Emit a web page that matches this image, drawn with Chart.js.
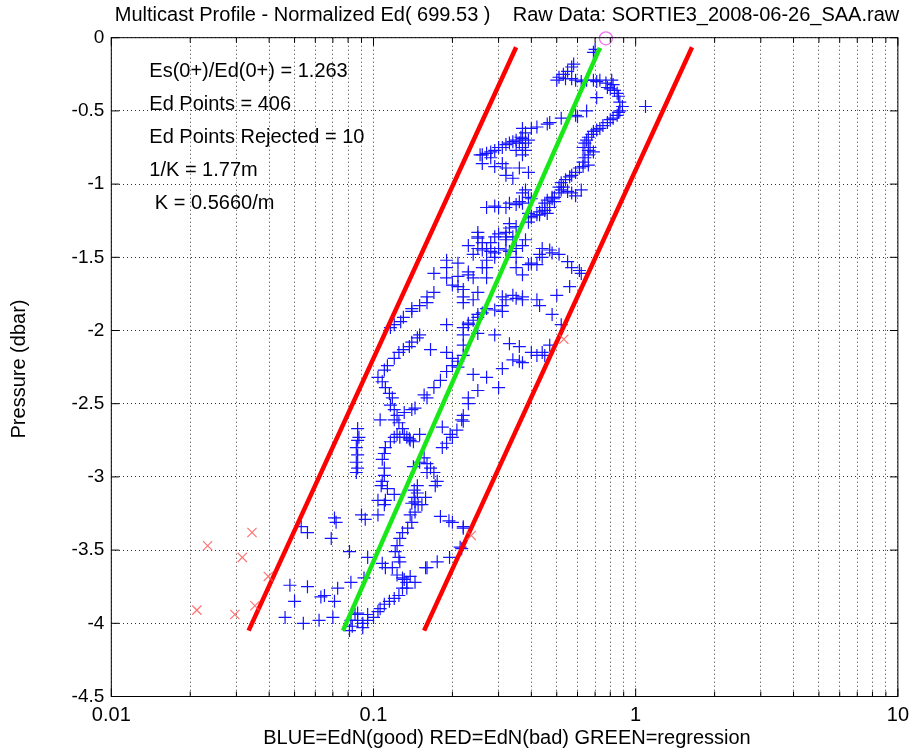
<!DOCTYPE html>
<html>
<head>
<meta charset="utf-8">
<script src="https://cdn.jsdelivr.net/npm/chart.js@4.4.1/dist/chart.umd.min.js"></script>
<style>
  html, body { margin: 0; padding: 0; background: #fff; }
  #wrap { width: 916px; height: 753px; position: relative; }
  canvas { display: block; }
</style>
</head>
<body>
<div id="wrap"><canvas id="c" width="916" height="753"></canvas></div>
<script>
// ---- Profile data: [normalized Ed, pressure (dbar)] ----
const goodPoints = [
  // near-surface cluster
  [0.69,-0.10],[0.70,-0.08],[0.58,-0.18],[0.57,-0.20],[0.55,-0.23],[0.53,-0.25],[0.51,-0.27],[0.50,-0.29],
  [0.54,-0.28],[0.57,-0.28],[0.59,-0.29],[0.62,-0.30],[0.65,-0.29],[0.69,-0.29],[0.71,-0.30],[0.73,-0.29],
  [0.77,-0.31],[0.78,-0.34],[0.81,-0.29],[0.82,-0.32],[0.80,-0.35],[0.83,-0.36],[0.85,-0.38],[0.86,-0.40],
  [0.87,-0.44],[0.89,-0.47],[0.87,-0.50],[0.86,-0.51],[0.71,-0.41],[0.65,-0.50],[1.09,-0.47],[0.60,-0.54],
  [0.52,-0.55],[0.46,-0.59],[0.42,-0.61],[0.40,-0.62],[0.47,-0.58],[0.59,-0.53],
  // descending trace from the right cluster
  [0.85,-0.53],[0.82,-0.55],[0.80,-0.56],[0.78,-0.58],[0.75,-0.60],[0.73,-0.62],[0.71,-0.63],[0.69,-0.64],
  [0.68,-0.66],[0.66,-0.68],[0.65,-0.70],[0.64,-0.72],[0.63,-0.75],[0.66,-0.77],[0.67,-0.75],[0.69,-0.78],
  [0.66,-0.80],[0.64,-0.82],[0.63,-0.85],[0.66,-0.87],[0.63,-0.88],[0.61,-0.89],[0.59,-0.92],[0.57,-0.94],
  [0.56,-0.95],[0.54,-0.97],[0.52,-0.99],[0.51,-1.02],[0.52,-1.04],[0.51,-1.06],[0.49,-1.09],[0.48,-1.10],
  [0.46,-1.11],[0.45,-1.13],[0.44,-1.16],[0.43,-1.19],[0.42,-1.21],[0.40,-1.23],[0.39,-1.26],
  // left upper group
  [0.37,-0.62],[0.38,-0.65],[0.37,-0.69],[0.365,-0.68],[0.39,-0.70],[0.38,-0.72],[0.37,-0.75],[0.38,-0.77],
  [0.37,-0.80],[0.36,-0.72],[0.35,-0.70],[0.34,-0.71],[0.33,-0.72],[0.32,-0.73],[0.31,-0.75],[0.30,-0.75],
  [0.29,-0.77],[0.28,-0.78],[0.27,-0.79],[0.26,-0.80],[0.255,-0.80],[0.28,-0.82],[0.26,-0.86],[0.29,-0.88],
  [0.32,-0.89],[0.32,-0.94],[0.34,-0.96],[0.36,-0.89],[0.39,-0.92],[0.35,-0.77],[0.31,-0.86],
  // around 1 dbar
  [0.38,-1.04],[0.37,-1.06],[0.39,-1.09],[0.40,-1.10],[0.37,-1.13],[0.36,-1.12],[0.35,-1.14],[0.33,-1.13],
  [0.32,-1.16],[0.30,-1.16],[0.29,-1.15],[0.27,-1.16],[0.39,-1.20],[0.40,-1.22],[0.43,-1.21],[0.45,-1.18],
  [0.46,-1.20],[0.47,-1.16],[0.48,-1.09],[0.53,-1.02],[0.57,-1.06],[0.59,-1.08],[0.62,-1.04],[0.49,-1.12],
  [0.55,-1.05],[0.33,-1.27],[0.33,-1.30],[0.32,-1.33],[0.30,-1.34],[0.29,-1.36],[0.25,-1.33],[0.25,-1.36],
  [0.32,-1.36],[0.34,-1.36],[0.35,-1.29],
  // 1.4 - 2.6 dbar, right half
  [0.25,-1.37],[0.26,-1.40],[0.25,-1.44],[0.26,-1.45],[0.27,-1.44],[0.28,-1.40],[0.28,-1.46],[0.29,-1.47],
  [0.29,-1.50],[0.30,-1.44],[0.32,-1.38],[0.32,-1.45],[0.33,-1.46],[0.35,-1.50],[0.35,-1.44],[0.35,-1.57],
  [0.37,-1.62],[0.37,-1.42],[0.38,-1.38],[0.39,-1.55],[0.40,-1.54],[0.42,-1.55],[0.43,-1.48],[0.44,-1.50],
  [0.44,-1.44],[0.47,-1.45],[0.48,-1.47],[0.51,-1.48],[0.55,-1.53],[0.57,-1.57],[0.61,-1.59],[0.62,-1.61],
  [0.56,-1.70],[0.50,-1.76],[0.48,-1.89],[0.42,-1.79],[0.43,-1.83],[0.37,-1.79],[0.37,-1.77],[0.35,-1.78],
  [0.34,-1.76],[0.32,-1.79],[0.31,-1.77],[0.31,-1.83],[0.31,-1.87],[0.29,-1.86],[0.27,-1.85],[0.26,-1.88],
  [0.25,-1.89],[0.25,-1.91],[0.24,-1.93],[0.23,-1.95],[0.23,-1.96],[0.22,-1.98],[0.25,-2.02],[0.29,-2.03],
  [0.33,-2.09],[0.36,-2.11],[0.40,-2.15],[0.42,-2.17],[0.44,-2.15],[0.47,-2.10],[0.52,-1.96],[0.45,-2.17],
  [0.37,-2.22],[0.36,-2.21],[0.34,-2.20],[0.31,-2.26],[0.30,-2.39],[0.27,-2.32],[0.24,-2.30],[0.25,-2.41],
  [0.23,-2.46],[0.23,-2.50],[0.22,-2.58],[0.22,-2.62],[0.23,-1.42],[0.24,-1.48],[0.23,-1.60],[0.24,-1.64],
  [0.23,-1.62],[0.22,-1.77],[0.22,-1.81],[0.24,-1.79],[0.25,-1.74],[0.27,-1.64],[0.27,-1.57],[0.26,-1.57],
  [0.27,-1.52],
  // 1.5 - 2.8 dbar, left half
  [0.19,-1.52],[0.21,-1.54],[0.19,-1.57],[0.17,-1.61],[0.19,-1.64],[0.21,-1.63],[0.20,-1.69],[0.21,-1.70],
  [0.22,-1.72],[0.17,-1.74],[0.16,-1.77],[0.16,-1.81],[0.15,-1.83],[0.14,-1.85],[0.14,-1.87],[0.13,-1.91],
  [0.127,-1.94],[0.12,-1.96],[0.116,-1.98],[0.19,-1.96],[0.15,-2.03],[0.147,-2.05],[0.14,-2.08],[0.137,-2.11],
  [0.13,-2.13],[0.125,-2.15],[0.12,-2.19],[0.113,-2.24],[0.11,-2.27],[0.104,-2.32],[0.108,-2.35],[0.111,-2.39],
  [0.115,-2.43],[0.118,-2.46],[0.116,-2.51],[0.12,-2.54],[0.123,-2.58],[0.12,-2.61],[0.125,-2.63],[0.129,-2.67],
  [0.131,-2.71],[0.137,-2.74],[0.123,-2.71],[0.106,-2.61],[0.087,-2.67],[0.088,-2.73],[0.165,-2.13],[0.18,-2.34],
  [0.17,-2.39],[0.156,-2.44],[0.16,-2.46],[0.144,-2.53],[0.14,-2.54],[0.131,-2.56],[0.15,-2.71],[0.183,-2.66],
  [0.196,-2.71],[0.208,-2.68],[0.217,-2.61],[0.19,-2.15],[0.20,-2.19],[0.21,-2.21],[0.21,-2.25],[0.19,-2.28],
  [0.20,-2.24],[0.22,-2.17],[0.22,-2.10],[0.22,-2.03],
  // 2.7 - 4.05 dbar
  [0.087,-2.75],[0.086,-2.80],[0.087,-2.85],[0.086,-2.90],[0.087,-2.94],[0.086,-2.97],[0.111,-2.80],[0.11,-2.84],
  [0.108,-2.88],[0.11,-2.94],[0.11,-2.99],[0.108,-3.03],[0.113,-3.08],[0.111,-3.16],[0.11,-3.19],[0.12,-3.12],
  [0.116,-2.76],[0.12,-2.73],[0.126,-2.73],[0.134,-2.73],[0.138,-2.75],[0.142,-2.76],[0.156,-2.87],[0.15,-2.90],
  [0.16,-2.91],[0.165,-2.94],[0.17,-2.97],[0.175,-3.03],[0.172,-3.06],[0.147,-3.06],[0.143,-3.09],[0.143,-3.14],
  [0.144,-3.17],[0.148,-3.19],[0.144,-3.24],[0.138,-3.26],[0.14,-3.31],[0.135,-3.35],[0.129,-3.38],[0.126,-3.42],
  [0.123,-3.47],[0.121,-3.51],[0.125,-3.55],[0.126,-3.58],[0.118,-3.62],[0.123,-3.67],[0.129,-3.69],[0.134,-3.72],
  [0.129,-3.76],[0.125,-3.81],[0.12,-3.83],[0.115,-3.85],[0.11,-3.87],[0.106,-3.90],[0.104,-3.92],[0.10,-3.96],
  [0.095,-3.98],[0.091,-4.00],[0.087,-3.98],[0.085,-3.94],[0.083,-4.02],[0.081,-4.05],[0.082,-3.98],[0.073,-3.76],
  [0.071,-3.85],[0.07,-3.96],[0.063,-3.82],[0.062,-3.98],[0.054,-4.00],[0.056,-3.75],[0.05,-3.85],[0.046,-3.96],
  [0.048,-3.74],[0.053,-3.34],[0.056,-3.38],[0.069,-3.42],[0.071,-3.28],[0.072,-3.31],[0.09,-3.26],[0.093,-3.29],
  [0.081,-3.51],[0.095,-3.55],[0.108,-3.59],[0.111,-3.62],[0.104,-3.26],[0.142,-2.93],[0.16,-2.97],[0.18,-3.27],
  [0.194,-3.30],[0.175,-3.58],[0.16,-3.62],[0.183,-2.80],[0.19,-2.77],[0.20,-2.73],[0.144,-3.72],[0.134,-3.76],
  [0.082,-3.72],[0.092,-3.69],[0.095,-3.94],[0.091,-4.03],[0.087,-3.93],[0.104,-3.16],[0.107,-3.06],[0.065,-3.81],
  [0.131,-3.70],[0.138,-3.68],[0.158,-3.62],[0.195,-3.55],[0.214,-3.48],[0.22,-3.35],[0.20,-3.31],[0.158,-3.14],
  [0.153,-3.19],[0.14,-3.18],[0.147,-3.11],[0.22,-3.34],[0.217,-3.49]
];

// rejected Ed samples
const badPoints = [
  [0.0344,-3.38],[0.0233,-3.47],[0.0316,-3.55],[0.0397,-3.68],[0.0353,-3.88],
  [0.0212,-3.91],[0.0296,-3.94],[0.236,-3.40],[0.532,-2.06]
];

// regression line and its rejection bounds (end points)
const regressionLine = [[0.0765,-4.05],[0.73,-0.07]];
const lowerBound     = [[0.0334,-4.05],[0.35,-0.065]];
const upperBound     = [[0.156,-4.05],[1.64,-0.065]];

// surface value Ed(0+)
const surfacePoint = [[0.77,-0.004]];

// axes
const xTickValues = [0.01, 0.1, 1, 10];
const xTickLabels = ['0.01', '0.1', '1', '10'];
const xGridValues = [0.01,0.02,0.03,0.04,0.05,0.06,0.07,0.08,0.09,
                     0.1,0.2,0.3,0.4,0.5,0.6,0.7,0.8,0.9,
                     1,2,3,4,5,6,7,8,9,10];
const yTickValues = [0,-0.5,-1,-1.5,-2,-2.5,-3,-3.5,-4,-4.5];
const yTickLabels = ['0','-0.5','-1','-1.5','-2','-2.5','-3','-3.5','-4','-4.5'];

const titleText = 'Multicast Profile - Normalized Ed( 699.53 )    Raw Data: SORTIE3_2008-06-26_SAA.raw';
const xTitle = 'BLUE=EdN(good) RED=EdN(bad) GREEN=regression';
const yTitle = 'Pressure (dbar)';
const statsLines = ['Es(0+)/Ed(0+) = 1.263', 'Ed Points = 406', 'Ed Points Rejected = 10', '1/K = 1.77m', ' K = 0.5660/m'];

const FONT = "'Liberation Sans', Arial, Helvetica, sans-serif";
const toXY = arr => arr.map(p => ({x: p[0], y: p[1]}));

const frameAndText = {
  id: 'frameAndText',
  afterDraw(chart) {
    const {ctx, chartArea: a, scales: {x, y}} = chart;
    ctx.save();
    ctx.strokeStyle = '#000';
    ctx.lineWidth = 1;
    ctx.strokeRect(a.left, a.top, a.right - a.left, a.bottom - a.top);
    // inward tick marks on all four sides
    ctx.beginPath();
    xGridValues.forEach(v => {
      const px = x.getPixelForValue(v);
      const len = xTickValues.includes(v) ? 8 : 5;
      ctx.moveTo(px, a.bottom); ctx.lineTo(px, a.bottom - len);
      ctx.moveTo(px, a.top); ctx.lineTo(px, a.top + len);
    });
    yTickValues.forEach(v => {
      const py = y.getPixelForValue(v);
      ctx.moveTo(a.left, py); ctx.lineTo(a.left + 8, py);
      ctx.moveTo(a.right, py); ctx.lineTo(a.right - 8, py);
    });
    ctx.stroke();

    ctx.fillStyle = '#000';
    ctx.font = '20px ' + FONT;
    // title
    ctx.textAlign = 'center';
    ctx.textBaseline = 'middle';
    ctx.fillText(titleText, 507, 15);
    // x axis title
    ctx.fillText(xTitle, 507, 738);
    // y axis title
    ctx.save();
    ctx.translate(19, 369);
    ctx.rotate(-Math.PI / 2);
    ctx.fillText(yTitle, 0, 0);
    ctx.restore();
    // regression statistics
    ctx.textAlign = 'left';
    statsLines.forEach((t, i) => {
      ctx.fillText(t, a.left + 38, a.top + 34 + i * 33);
    });
    ctx.restore();
  }
};

new Chart(document.getElementById('c'), {
  type: 'scatter',
  data: {
    datasets: [
      { label: 'Ed(0+)', data: toXY(surfacePoint), pointStyle: 'circle', pointRadius: 6.5,
        borderColor: '#f070f0', backgroundColor: 'rgba(0,0,0,0)', borderWidth: 1.3, clip: false, order: 0 },
      { label: 'EdN(bad)', data: toXY(badPoints), pointStyle: 'crossRot', pointRadius: 6.5,
        borderColor: 'rgba(255,90,90,0.85)', borderWidth: 1.2, order: 1 },
      { label: 'regression', data: toXY(regressionLine), showLine: true, pointRadius: 0,
        borderColor: '#18e818', borderWidth: 4.5, order: 2 },
      { label: 'lower bound', data: toXY(lowerBound), showLine: true, pointRadius: 0,
        borderColor: '#ff0000', borderWidth: 4.5, order: 3 },
      { label: 'upper bound', data: toXY(upperBound), showLine: true, pointRadius: 0,
        borderColor: '#ff0000', borderWidth: 4.5, order: 4 },
      { label: 'EdN(good)', data: toXY(goodPoints), pointStyle: 'cross', pointRadius: 6.5,
        borderColor: '#1414ff', borderWidth: 1.2, order: 5 }
    ]
  },
  options: {
    responsive: false,
    maintainAspectRatio: false,
    animation: false,
    devicePixelRatio: 1,
    layout: { padding: { top: 37.7, right: 11.5, bottom: 0, left: 0 } },
    plugins: { legend: { display: false }, tooltip: { enabled: false }, title: { display: false } },
    scales: {
      x: {
        type: 'logarithmic', min: 0.01, max: 10,
        afterBuildTicks: s => { s.ticks = xGridValues.map(v => ({ value: v })); },
        afterFit: s => { s.height = 56.5; },
        grid: { color: 'rgba(0,0,0,0.8)', lineWidth: 1, drawTicks: false },
        border: { display: false, dash: [1, 3] },
        ticks: {
          autoSkip: false, maxRotation: 0, minRotation: 0, padding: 7, color: '#000',
          font: { family: FONT, size: 20 },
          callback: v => { const i = xTickValues.indexOf(v); return i >= 0 ? xTickLabels[i] : ''; }
        }
      },
      y: {
        type: 'linear', min: -4.5, max: 0,
        afterBuildTicks: s => { s.ticks = yTickValues.map(v => ({ value: v })); },
        afterFit: s => { s.width = 111.3; },
        grid: { color: 'rgba(0,0,0,0.8)', lineWidth: 1, drawTicks: false },
        border: { display: false, dash: [1, 3] },
        ticks: {
          autoSkip: false, padding: 7, color: '#000', font: { family: FONT, size: 19 },
          callback: v => { const i = yTickValues.indexOf(v); return i >= 0 ? yTickLabels[i] : ''; }
        }
      }
    }
  },
  plugins: [frameAndText]
});
</script>
</body>
</html>
